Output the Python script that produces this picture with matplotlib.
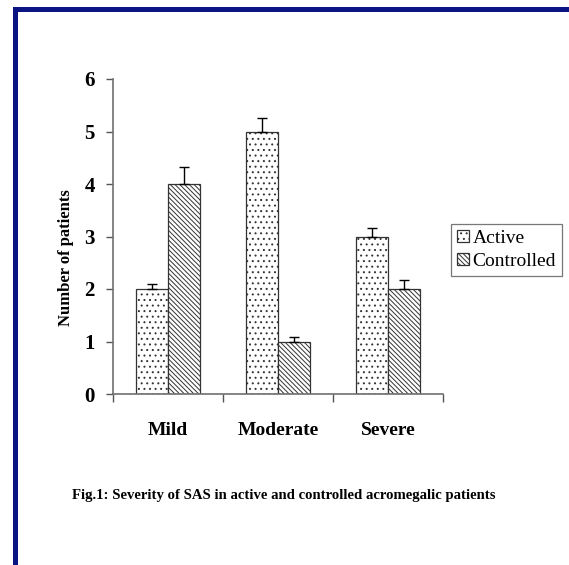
import matplotlib
matplotlib.use("Agg")
import matplotlib.pyplot as plt
import numpy as np
from matplotlib.patches import Rectangle

categories = ["Mild", "Moderate", "Severe"]
active = [2, 5, 3]
controlled = [4, 1, 2]
active_err = [0.1, 0.25, 0.17]
controlled_err = [0.33, 0.08, 0.17]
yticks = [0, 1, 2, 3, 4, 5, 6]
series_names = ["Active", "Controlled"]
caption = "Fig.1: Severity of SAS in active and controlled acromegalic patients"
ylabel = "Number of patients"

plt.rcParams["font.family"] = ["Liberation Serif", "DejaVu Serif"]
plt.rcParams["hatch.linewidth"] = 0.7
plt.rcParams["hatch.color"] = "#333333"

fig = plt.figure(figsize=(5.69, 5.65), dpi=100)
fig.patch.set_facecolor("white")

# navy frame (top and left)
navy = "#0a1483"
fig.patches.append(Rectangle((13/569, 0), 5/569, 1 - 7/565, transform=fig.transFigure,
                             facecolor=navy, edgecolor="none"))
fig.patches.append(Rectangle((13/569, 1 - 12/565), 1, 5/565, transform=fig.transFigure,
                             facecolor=navy, edgecolor="none"))

ax = fig.add_axes([113/569, 1 - 394/565, 330/569, 315/565])
x = np.arange(len(categories))
w = 0.29
b1 = ax.bar(x - w/2, active, w, facecolor="white", edgecolor="#333333", linewidth=0.9,
            hatch="...", label=series_names[0])
b2 = ax.bar(x + w/2, controlled, w, facecolor="white", edgecolor="#333333", linewidth=0.9,
            hatch="\\" * 7, label=series_names[1])
ax.errorbar(x - w/2, active, yerr=[np.zeros(3), active_err], fmt="none", ecolor="black",
            elinewidth=1.0, capsize=3.5, capthick=1.0)
ax.errorbar(x + w/2, controlled, yerr=[np.zeros(3), controlled_err], fmt="none", ecolor="black",
            elinewidth=1.0, capsize=3.5, capthick=1.0)

ax.set_xlim(-0.5, 2.5)
ax.set_ylim(0, 6)
ax.set_yticks(yticks)
ax.set_yticklabels([str(t) for t in yticks], fontsize=15, fontweight="bold")
ax.set_xticks([-0.5, 0.5, 1.5, 2.5])
ax.set_xticklabels([])
ax.set_xticks(x, minor=True)
ax.set_xticklabels(categories, minor=True, fontsize=14, fontweight="bold")
ax.tick_params(axis="x", which="minor", length=0, pad=20)
ax.tick_params(axis="x", which="major", length=6, width=1, color="#555555", direction="out")
ax.tick_params(axis="y", length=5, width=1, color="#555555", pad=8)
for s in ["top", "right"]:
    ax.spines[s].set_visible(False)
for s in ["left", "bottom"]:
    ax.spines[s].set_color("#707070")
    ax.spines[s].set_linewidth(1.2)

fig.text(66/569, 1 - 258/565, ylabel, rotation=90, ha="center", va="center",
         fontsize=12, fontweight="bold")

leg = fig.legend(handles=[b1, b2], labels=series_names, loc="upper left",
                 bbox_to_anchor=(451/569, 1 - 224/565), fontsize=14, frameon=True,
                 fancybox=False, edgecolor="#555555", handlelength=0.6, handleheight=0.6,
                 handletextpad=0.2, borderpad=0.3, labelspacing=0.3, borderaxespad=0)
leg.get_frame().set_linewidth(0.9)

fig.text(284/569, 1 - 495/565, caption, ha="center", va="center",
         fontsize=10.6, fontweight="bold")

fig.savefig("out.png", dpi=100, facecolor="white")
